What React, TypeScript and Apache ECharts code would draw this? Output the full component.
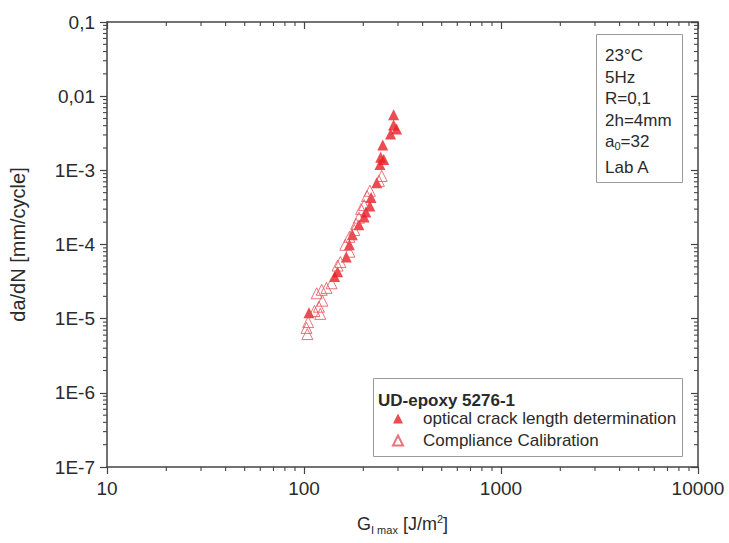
import React, { useEffect, useRef } from "react";
import * as echarts from "echarts";

// G_I max [J/m^2], da/dN [mm/cycle]
const OPTICAL: [number, number][] = [
  [285, 5.6e-3], [285, 4.1e-3], [295, 3.6e-3], [275, 3.1e-3], [251, 2.2e-3],
  [245, 1.5e-3], [254, 1.4e-3], [243, 1.2e-3], [234, 6.8e-4], [219, 4.3e-4],
  [216, 3.3e-4], [206, 2.75e-4], [202, 2.35e-4], [190, 1.85e-4], [176, 1.35e-4],
  [170, 9.9e-5], [164, 6.8e-5], [148, 4.3e-5], [143, 3.7e-5], [106, 1.2e-5],
];
const COMPLIANCE: [number, number][] = [
  [248, 8.4e-4], [240, 7.2e-4], [216, 5.3e-4], [209, 4.5e-4], [202, 3.4e-4],
  [195, 3.0e-4], [190, 2.3e-4], [184, 1.9e-4], [180, 1.57e-4], [170, 1.27e-4],
  [162, 9.9e-5], [170, 8.0e-5], [153, 5.8e-5], [148, 5.2e-5], [138, 3.0e-5],
  [130, 2.6e-5], [123, 2.45e-5], [116, 2.2e-5], [124, 1.75e-5], [119, 1.45e-5],
  [113, 1.27e-5], [121, 1.16e-5], [105, 9.0e-6], [103, 7.5e-6], [104, 6.2e-6],
];
const SERIES_NAMES = ["optical crack length determination", "Compliance Calibration"];
const LEGEND_TITLE = "UD-epoxy 5276-1";
const X_MIN = 10;
const X_MAX = 10000;
const Y_MIN = 1e-7;
const Y_MAX = 0.1;
const Y_TICK_EXPONENTS = [-7, -6, -5, -4, -3, -2, -1];
const Y_TICK_LABELS = ["1E-7", "1E-6", "1E-5", "1E-4", "1E-3", "0,01", "0,1"];
const X_DECADES = [10, 100, 1000];
const Y_DECADES = [1e-7, 1e-6, 1e-5, 1e-4, 1e-3, 1e-2];
const MINOR_MULT = [2, 3, 4, 5, 6, 7, 8, 9];
const INSET_LINES = ["23°C", "5Hz", "R=0,1", "2h=4mm", "{a|a}{s|0}{a|=32}", "Lab A"];

const MINOR_X = X_DECADES.flatMap((d) => MINOR_MULT.map((m) => m * d));
const MINOR_Y = Y_DECADES.flatMap((d) => MINOR_MULT.map((m) => m * d));

const FONT = "'Liberation Sans', Arial, sans-serif";
const AX = "#444444";
const TXT = "#2a2a2a";
const RED = "#e61e26";
const RED_OPEN = "#e5505b";

export default function App() {
  const ref = useRef<HTMLDivElement>(null);
  useEffect(() => {
    document.body.style.margin = "0";
    if (!ref.current) return;
    const chart = echarts.init(ref.current, null, { renderer: "svg" });
    const axLine = { lineStyle: { color: AX, width: 1.5 } };
    const tickStyle = { color: AX, width: 1.2 };
    const insetY = [55, 77, 98, 120, 141, 167];
    const option: any = {
      animation: false,
      backgroundColor: "#fff",
      textStyle: { fontFamily: FONT },
      grid: { left: 100, right: 31, top: 22, bottom: 76 },
      xAxis: [
        {
          type: "log", logBase: 10, min: X_MIN, max: X_MAX, splitNumber: 3,
          position: "bottom",
          axisLine: axLine,
          axisTick: { show: true, inside: false, length: 7, lineStyle: tickStyle },
          splitLine: { show: false },
          axisLabel: {
            fontSize: 19, color: TXT, margin: 12, fontFamily: FONT,
            formatter: (v: number) => String(Math.round(v)),
          },
          name: "{n|G}{s|I max}{n| [J/m}{p|2}{n|]}",
          nameLocation: "middle",
          nameGap: 46,
          nameTextStyle: {
            fontFamily: FONT,
            rich: {
              n: { fontSize: 18, color: TXT, lineHeight: 22, fontFamily: FONT },
              s: { fontSize: 11, color: TXT, lineHeight: 8, verticalAlign: "bottom", fontFamily: FONT },
              p: { fontSize: 11, color: TXT, lineHeight: 10, verticalAlign: "top", fontFamily: FONT },
            },
          },
        },
        {
          type: "log", logBase: 10, min: X_MIN, max: X_MAX, splitNumber: 3,
          position: "top",
          axisLine: axLine,
          axisTick: { show: true, inside: true, length: 7, lineStyle: tickStyle },
          splitLine: { show: false },
          axisLabel: { show: false },
        },
      ],
      yAxis: [
        {
          type: "log", logBase: 10, min: Y_MIN, max: Y_MAX, splitNumber: 6,
          position: "left",
          axisLine: axLine,
          axisTick: { show: true, inside: false, length: 7, lineStyle: tickStyle },
          splitLine: { show: false },
          axisLabel: {
            fontSize: 19, color: TXT, margin: 12, fontFamily: FONT,
            formatter: (v: number) => {
              const e = Math.round(Math.log10(v));
              const i = Y_TICK_EXPONENTS.indexOf(e);
              return i >= 0 ? Y_TICK_LABELS[i] : "";
            },
          },
          name: "da/dN [mm/cycle]",
          nameLocation: "middle",
          nameGap: 79,
          nameRotate: 90,
          nameTextStyle: { fontSize: 20, color: TXT, fontFamily: FONT },
        },
        {
          type: "log", logBase: 10, min: Y_MIN, max: Y_MAX, splitNumber: 6,
          position: "right",
          axisLine: axLine,
          axisTick: { show: true, inside: true, length: 7, lineStyle: tickStyle },
          splitLine: { show: false },
          axisLabel: { show: false },
        },
      ],
      legend: {
        data: SERIES_NAMES,
        orient: "vertical",
        left: 392,
        top: 410,
        itemWidth: 10,
        itemHeight: 10,
        itemGap: 5,
        padding: 0,
        selectedMode: false,
        textStyle: { fontSize: 17, color: TXT, fontFamily: FONT, padding: [0, 0, 0, 15] },
        z: 10,
      },
      graphic: [
        {
          type: "rect", z: 5,
          shape: { x: 373.5, y: 378.5, width: 309, height: 78 },
          style: { fill: "#fff", stroke: "#9a9a9a", lineWidth: 1 },
        },
        {
          type: "text", z: 11, x: 378, y: 400,
          style: { text: LEGEND_TITLE, font: `bold 17px ${FONT}`, fill: TXT, verticalAlign: "middle" },
        },
        {
          type: "rect", z: 5,
          shape: { x: 596.5, y: 34.5, width: 86, height: 148 },
          style: { fill: "#fff", stroke: "#9a9a9a", lineWidth: 1 },
        },
        ...INSET_LINES.map((t, i) => ({
          type: "text", z: 11, x: 605, y: insetY[i],
          style: {
            text: t, font: `17px ${FONT}`, fill: TXT, verticalAlign: "middle",
            rich: {
              a: { fontSize: 17, fontFamily: FONT, fill: TXT, lineHeight: 20 },
              s: { fontSize: 11, fontFamily: FONT, fill: TXT, lineHeight: 8, verticalAlign: "bottom" },
            },
          },
        })),
      ],
      series: [
        {
          type: "custom", silent: true, clip: false, z: 3,
          xAxisIndex: 0, yAxisIndex: 0,
          data: MINOR_X.map((v) => [v, Y_MIN]),
          renderItem: (_p: any, api: any) => {
            const v = api.value(0);
            const b = api.coord([v, Y_MIN]);
            const t = api.coord([v, Y_MAX]);
            return {
              type: "group",
              children: [
                { type: "line", shape: { x1: b[0], y1: b[1], x2: b[0], y2: b[1] + 4 }, style: { stroke: AX, lineWidth: 1.1 } },
                { type: "line", shape: { x1: t[0], y1: t[1], x2: t[0], y2: t[1] + 4 }, style: { stroke: AX, lineWidth: 1.1 } },
              ],
            };
          },
        },
        {
          type: "custom", silent: true, clip: false, z: 3,
          xAxisIndex: 0, yAxisIndex: 0,
          data: MINOR_Y.map((v) => [X_MIN, v]),
          renderItem: (_p: any, api: any) => {
            const v = api.value(1);
            const l = api.coord([X_MIN, v]);
            const r = api.coord([X_MAX, v]);
            return {
              type: "group",
              children: [
                { type: "line", shape: { x1: l[0] - 4, y1: l[1], x2: l[0], y2: l[1] }, style: { stroke: AX, lineWidth: 1.1 } },
                { type: "line", shape: { x1: r[0] - 4, y1: r[1], x2: r[0], y2: r[1] }, style: { stroke: AX, lineWidth: 1.1 } },
              ],
            };
          },
        },
        {
          name: SERIES_NAMES[0], type: "scatter", xAxisIndex: 0, yAxisIndex: 0,
          symbol: "triangle", symbolSize: 11,
          itemStyle: { color: RED },
          data: OPTICAL,
          z: 4,
        },
        {
          name: SERIES_NAMES[1], type: "scatter", xAxisIndex: 0, yAxisIndex: 0,
          symbol: "triangle", symbolSize: 11,
          itemStyle: { color: "rgba(255,255,255,0)", borderColor: RED_OPEN, borderWidth: 1 },
          data: COMPLIANCE,
          z: 4,
        },
      ],
    };
    chart.setOption(option);
    return () => chart.dispose();
  }, []);
  return <div ref={ref} style={{ width: 729, height: 543 }} />;
}
